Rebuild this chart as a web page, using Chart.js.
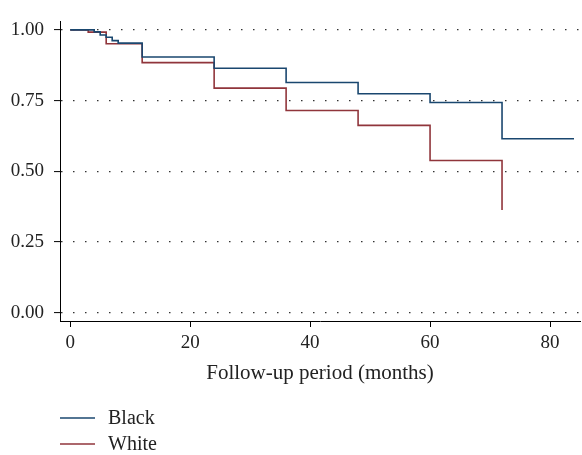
<!DOCTYPE html>
<html>
<head>
<meta charset="utf-8">
<script src="https://cdn.jsdelivr.net/npm/chart.js@4.4.0/dist/chart.umd.min.js"></script>
<style>
  html, body { margin: 0; padding: 0; background: #fff; }
</style>
</head>
<body>
<canvas id="km" width="582" height="455"></canvas>
<script>
// Kaplan-Meier survival estimates (step drops at each month)
const seriesNames = ["Black", "White"];
const seriesColors = ["#1a476f", "#90353b"];

const blackMonths = [0, 4, 5, 6, 7, 8, 12, 24, 36, 48, 60, 72, 84];
const blackSurvival = [1, 0.993, 0.982, 0.974, 0.962, 0.953, 0.904, 0.864, 0.814, 0.774, 0.743, 0.615, 0.615];

const whiteMonths = [0, 3, 6, 12, 24, 36, 48, 60, 72];
const whiteSurvival = [1, 0.992, 0.951, 0.884, 0.794, 0.715, 0.662, 0.538, 0.363];

const xTicks = [0, 20, 40, 60, 80];
const yTicks = [0, 0.25, 0.5, 0.75, 1];
const xTitle = "Follow-up period (months)";

const SERIF = '"Liberation Serif", "DejaVu Serif", serif';
const toPoints = (xs, ys) => xs.map((x, i) => ({ x, y: ys[i] }));

// Stata-style legend: one entry per line under the plot
const stackedLegend = {
  id: "stackedLegend",
  afterDraw(chart) {
    const { ctx } = chart;
    ctx.save();
    ctx.font = "20px " + SERIF;
    ctx.textBaseline = "middle";
    chart.data.datasets.forEach((ds, i) => {
      const y = 418 + i * 26;
      ctx.strokeStyle = ds.borderColor;
      ctx.lineWidth = 1.5;
      ctx.beginPath();
      ctx.moveTo(60, y);
      ctx.lineTo(95, y);
      ctx.stroke();
      ctx.fillStyle = "#222";
      ctx.fillText(ds.label, 108, y + 1);
    });
    ctx.restore();
  },
};

new Chart(document.getElementById("km"), {
  type: "line",
  data: {
    datasets: [
      { label: seriesNames[0], data: toPoints(blackMonths, blackSurvival), borderColor: seriesColors[0] },
      { label: seriesNames[1], data: toPoints(whiteMonths, whiteSurvival), borderColor: seriesColors[1] },
    ].map((ds) => ({ ...ds, stepped: "before", borderWidth: 1.6, pointRadius: 0, fill: false })),
  },
  options: {
    responsive: false,
    animation: false,
    layout: { padding: { left: 0, right: 2, top: 9, bottom: 69 } },
    plugins: { legend: { display: false }, tooltip: { enabled: false } },
    scales: {
      x: {
        type: "linear",
        min: -1.7,
        max: 85,
        afterBuildTicks: (s) => { s.ticks = xTicks.map((v) => ({ value: v })); },
        afterFit: (s) => { s.height = 65; },
        border: { color: "#000", width: 1 },
        grid: { drawOnChartArea: false, tickLength: 6, tickColor: "#000" },
        ticks: { color: "#222", font: { family: SERIF, size: 19 }, padding: 5, maxRotation: 0 },
        title: { display: true, text: xTitle, color: "#222", font: { family: SERIF, size: 21 }, padding: { top: 0, bottom: 0 } },
      },
      y: {
        min: -0.03,
        max: 1.03,
        afterBuildTicks: (s) => { s.ticks = yTicks.map((v) => ({ value: v })); },
        afterFit: (s) => { s.width = 60; },
        // in v4 border.dash sets the dash of the grid lines, the axis line stays solid
        border: { color: "#000", width: 1, dash: [1.5, 10.5], dashOffset: 0 },
        grid: {
          color: "#333",
          lineWidth: 1.2,
          tickBorderDash: [],
          tickColor: "#000",
          tickWidth: 1,
          tickLength: 6,
        },
        ticks: {
          color: "#222",
          font: { family: SERIF, size: 19 },
          padding: 10,
          callback: (v) => v.toFixed(2),
        },
      },
    },
  },
  plugins: [stackedLegend],
});
</script>
</body>
</html>
